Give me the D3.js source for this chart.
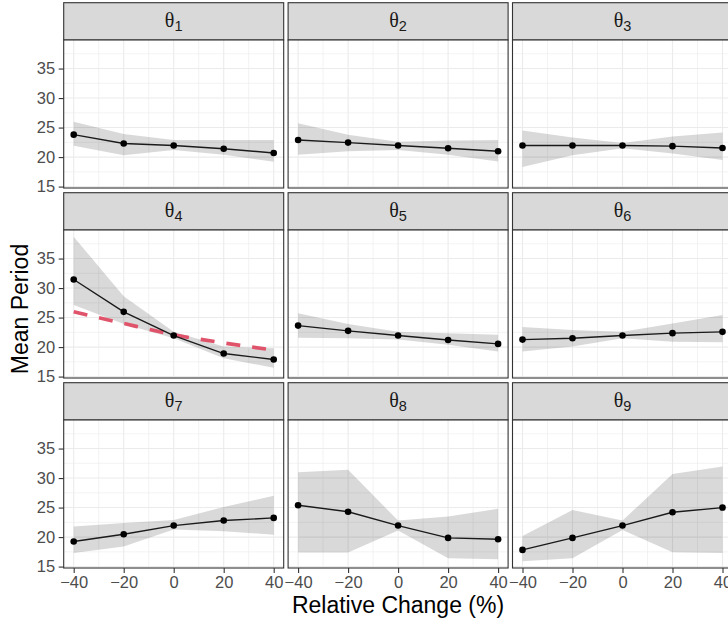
<!DOCTYPE html>
<html>
<head>
<meta charset="utf-8">
<script src="https://cdn.jsdelivr.net/npm/d3@7"></script>
<style>
body { margin: 0; background: #fff; }
text { font-family: "Liberation Sans", Arial, sans-serif; }
</style>
</head>
<body>
<svg id="chart" width="728" height="622"></svg>
<script>
// relative change of each parameter (%)
const changes = [-40, -20, 0, 20, 40];
const thetaIds = ["1", "2", "3", "4", "5", "6", "7", "8", "9"];

// mean period per parameter, one row per theta
const meanPeriod = [
  [23.8, 22.3, 21.95, 21.4, 20.7],
  [22.9, 22.45, 21.95, 21.5, 21.0],
  [21.95, 21.95, 21.95, 21.85, 21.55],
  [31.45, 25.97, 21.95, 18.9, 17.9],
  [23.64, 22.75, 21.95, 21.2, 20.54],
  [21.27, 21.5, 21.95, 22.36, 22.58],
  [19.24, 20.49, 21.95, 22.8, 23.25],
  [25.4, 24.3, 21.95, 19.86, 19.64],
  [17.83, 19.86, 21.95, 24.2, 25.0]
];
const lowerBand = [
  [21.9, 20.3, 21.2, 20.4, 19.2],
  [20.4, 21.0, 21.2, 20.4, 19.25],
  [18.3, 20.3, 21.5, 20.6, 19.5],
  [27.15, 23.9, 21.5, 18.1, 16.5],
  [21.6, 21.5, 21.3, 20.4, 19.25],
  [19.25, 20.1, 21.5, 20.9, 20.8],
  [17.3, 18.4, 21.3, 21.0, 20.4],
  [17.4, 17.4, 21.1, 16.4, 16.25],
  [15.9, 16.4, 21.2, 17.45, 17.3]
];
const upperBand = [
  [26.0, 23.9, 22.9, 22.9, 22.9],
  [25.75, 23.8, 22.6, 22.8, 22.9],
  [24.5, 23.3, 22.4, 23.5, 24.15],
  [38.7, 28.6, 22.6, 20.1, 19.8],
  [25.75, 23.9, 22.6, 22.35, 22.1],
  [23.4, 22.9, 22.6, 24.0, 25.45],
  [21.8, 22.4, 22.9, 25.1, 27.0],
  [31.0, 31.4, 22.8, 23.5, 24.8],
  [20.2, 24.6, 22.8, 30.7, 31.95]
];
// reference curve shown only in the theta4 panel
const refPanel = 3;
const refPeriod = [26.0, 24.0, 22.1, 20.7, 19.5];

const yTicks = [15, 20, 25, 30, 35];
const yMinor = [17.5, 22.5, 27.5, 32.5, 37.5];
const xMinor = [-30, -10, 10, 30];

let svg = d3.select("#chart");

const panelW = 220, panelH = 148, stripH = 37.3;
const colX = [63.7, 288.1, 512.5];
const rowY = [2.7, 192.7, 382.7];

let x = d3.scaleLinear().domain([-44, 44]).range([0, panelW]);
let ext = d3.extent(lowerBand.flat().concat(upperBand.flat()));
let pad = (ext[1] - ext[0]) * 0.05;
let y = d3.scaleLinear().domain([ext[0] - pad, ext[1] + pad]).range([panelH, 0]);

let line = d3.line().x((d, i) => x(changes[i])).y(d => y(d));
let band = d3.area()
  .x(d => x(d.c))
  .y0(d => y(d.lo))
  .y1(d => y(d.hi));

thetaIds.forEach(function(id, k) {
  let col = k % 3, row = Math.floor(k / 3);
  let g = svg.append("g")
    .attr("transform", "translate(" + colX[col] + "," + rowY[row] + ")");

  // strip
  g.append("rect")
    .attr("width", panelW).attr("height", stripH)
    .attr("fill", "#D9D9D9").attr("stroke", "#333333").attr("stroke-width", 1.1);
  let lab = g.append("text")
    .attr("x", panelW / 2).attr("y", 24.6)
    .attr("text-anchor", "middle").attr("fill", "#1A1A1A");
  lab.append("tspan").style("font-family", "'Liberation Serif', 'DejaVu Serif', serif")
    .style("font-size", "20px").text("θ");
  lab.append("tspan").attr("dy", 3.4).style("font-size", "14.5px").text(id);

  let p = g.append("g").attr("transform", "translate(0," + stripH + ")");
  p.append("rect").attr("width", panelW).attr("height", panelH).attr("fill", "#fff");

  // grid
  p.selectAll(".ymin").data(yMinor).enter().append("line")
    .attr("x1", 0).attr("x2", panelW).attr("y1", d => y(d)).attr("y2", d => y(d))
    .attr("stroke", "#EBEBEB").attr("stroke-width", 0.6);
  p.selectAll(".xmin").data(xMinor).enter().append("line")
    .attr("y1", 0).attr("y2", panelH).attr("x1", d => x(d)).attr("x2", d => x(d))
    .attr("stroke", "#EBEBEB").attr("stroke-width", 0.6);
  p.selectAll(".ymaj").data(yTicks).enter().append("line")
    .attr("x1", 0).attr("x2", panelW).attr("y1", d => y(d)).attr("y2", d => y(d))
    .attr("stroke", "#EBEBEB").attr("stroke-width", 1.1);
  p.selectAll(".xmaj").data(changes).enter().append("line")
    .attr("y1", 0).attr("y2", panelH).attr("x1", d => x(d)).attr("x2", d => x(d))
    .attr("stroke", "#EBEBEB").attr("stroke-width", 1.1);

  let bandData = changes.map((c, i) => ({c: c, lo: lowerBand[k][i], hi: upperBand[k][i]}));
  p.append("path").datum(bandData)
    .attr("d", band).attr("fill", "#000").attr("fill-opacity", 0.15);

  if (k == refPanel) {
    p.append("path").datum(refPeriod)
      .attr("d", line.curve(d3.curveMonotoneX))
      .attr("fill", "none").attr("stroke", "#DF536B")
      .attr("stroke-width", 3.6).attr("stroke-dasharray", "14,12");
    line.curve(d3.curveLinear);
  }

  p.append("path").datum(meanPeriod[k])
    .attr("d", line).attr("fill", "none")
    .attr("stroke", "#1A1A1A").attr("stroke-width", 1.4);
  p.selectAll("circle").data(meanPeriod[k]).enter().append("circle")
    .attr("cx", (d, i) => x(changes[i])).attr("cy", d => y(d))
    .attr("r", 3.3).attr("fill", "#000");

  p.append("rect").attr("width", panelW).attr("height", panelH)
    .attr("fill", "none").attr("stroke", "#333333").attr("stroke-width", 1.1);

  // axes only on the outer panels
  if (col == 0) {
    let ay = p.append("g").call(d3.axisLeft(y).tickValues(yTicks).tickSize(5).tickPadding(3.5));
    ay.select(".domain").remove();
    ay.selectAll("line").attr("stroke", "#333333").attr("stroke-width", 1.1);
    ay.selectAll("text").attr("fill", "#4D4D4D").style("font-size", "16.5px")
      .style("font-family", "'Liberation Sans', Arial, sans-serif");
  }
  if (row == 2) {
    let ax = p.append("g").attr("transform", "translate(0," + panelH + ")")
      .call(d3.axisBottom(x).tickValues(changes).tickSize(5).tickPadding(3));
    ax.select(".domain").remove();
    ax.selectAll("line").attr("stroke", "#333333").attr("stroke-width", 1.1);
    ax.selectAll("text").attr("fill", "#4D4D4D").style("font-size", "16.5px")
      .style("font-family", "'Liberation Sans', Arial, sans-serif");
  }
});

svg.append("text")
  .attr("x", 398).attr("y", 613)
  .attr("text-anchor", "middle").style("font-size", "23px")
  .text("Relative Change (%)");

svg.append("text")
  .attr("transform", "translate(28.3,309) rotate(-90)")
  .attr("text-anchor", "middle").style("font-size", "23px")
  .text("Mean Period");
</script>
</body>
</html>
